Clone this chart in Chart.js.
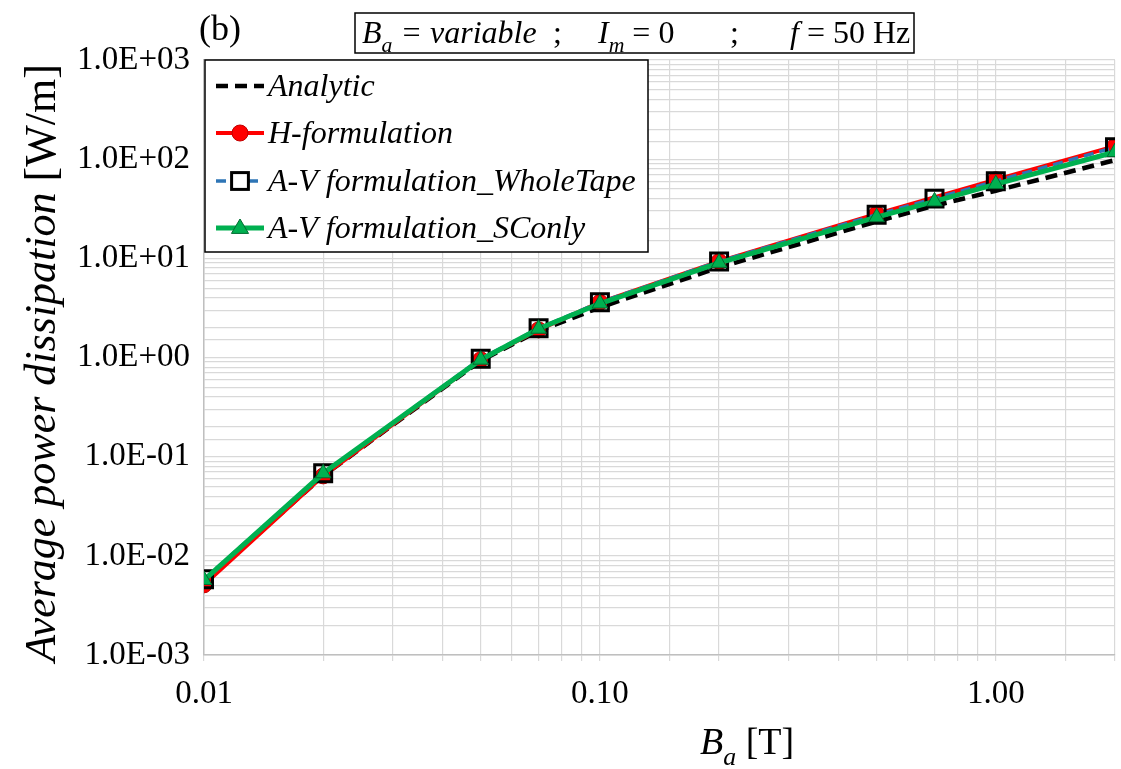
<!DOCTYPE html>
<html>
<head>
<meta charset="utf-8">
<script src="https://cdn.jsdelivr.net/npm/chart.js@4.4.1/dist/chart.umd.min.js"></script>
<style>
  html, body { margin: 0; padding: 0; background: #fff; }
  #wrap { width: 1121px; height: 769px; }
</style>
</head>
<body>
<div id="wrap"><canvas id="lossChart" width="1121" height="769"></canvas></div>
<script>
// applied field amplitude [T]
const fieldValues = [0.01, 0.02, 0.05, 0.07, 0.1, 0.2, 0.5, 0.7, 1.0, 2.0];

// average power dissipation [W/m]
const analytic   = [0.0054, 0.064, 0.93, 1.85, 3.2, 8.1, 23.5, 34, 48, 98];
const hForm      = [0.0051, 0.064, 0.95, 1.9, 3.6, 9.3, 28, null, 62, 135];
const avWhole    = [0.0058, 0.068, 0.97, 1.97, 3.6, 9.3, 27.5, 40, 60, 132];
const avSConly   = [0.0057, 0.068, 0.95, 1.95, 3.5, 9.0, 26, 37.5, 56, 118];

const seriesNames = ['Analytic', 'H-formulation', 'A-V formulation_WholeTape', 'A-V formulation_SConly'];

const serif = '"Liberation Serif", "Times New Roman", serif';

function toPoints(ys) {
    return fieldValues.map((x, i) => ({x: x, y: ys[i]}));
}

function isDecade(v) {
    const l = Math.log10(v);
    return Math.abs(l - Math.round(l)) < 1e-6;
}

function sciLabel(v) {
    const e = Math.round(Math.log10(v));
    const sign = e < 0 ? '-' : '+';
    return '1.0E' + sign + String(Math.abs(e)).padStart(2, '0');
}

// draws pieces of text one after the other: [text, italic, sub]
function richText(ctx, parts, x, y, size) {
    let cx = x;
    parts.forEach(p => {
        const fs = p[2] ? size * 0.68 : size;
        ctx.font = (p[1] ? 'italic ' : '') + fs + 'px ' + serif;
        ctx.fillText(p[0], cx, p[2] ? y + size * 0.28 : y);
        cx += ctx.measureText(p[0]).width;
    });
    return cx - x;
}

function richWidth(ctx, parts, size) {
    let w = 0;
    parts.forEach(p => {
        const fs = p[2] ? size * 0.68 : size;
        ctx.font = (p[1] ? 'italic ' : '') + fs + 'px ' + serif;
        w += ctx.measureText(p[0]).width;
    });
    return w;
}

const decorPlugin = {
    id: 'decor',
    afterDraw(chart) {
        const ctx = chart.ctx;
        const area = chart.chartArea;
        ctx.save();
        ctx.fillStyle = '#000';
        ctx.textBaseline = 'alphabetic';
        ctx.textAlign = 'left';

        // (b)
        ctx.font = '36px ' + serif;
        ctx.fillText('(b)', 199, 40);

        // condition box
        ctx.fillStyle = '#fff';
        ctx.fillRect(355, 13, 559, 40);
        ctx.strokeStyle = '#000';
        ctx.lineWidth = 1.5;
        ctx.strokeRect(355, 13, 559, 40);
        ctx.fillStyle = '#000';
        richText(ctx, [['B', true], ['a', true, true], [' = variable', true]], 362, 43, 32);
        richText(ctx, [[';', false]], 553, 43, 32);
        richText(ctx, [['I', true], ['m', true, true], [' = 0', false]], 598, 43, 32);
        richText(ctx, [[';', false]], 730, 43, 32);
        richText(ctx, [['f', true], [' = 50 Hz', false]], 790, 43, 32);

        // legend box
        const lx = 205, ly = area.top, lw = 443, lh = 192;
        ctx.fillStyle = '#fff';
        ctx.fillRect(lx, ly, lw, lh);
        ctx.strokeStyle = '#000';
        ctx.lineWidth = 1.5;
        ctx.strokeRect(lx, ly, lw, lh);
        const rows = [86, 133, 181, 228];
        chart.data.datasets.forEach((ds, i) => {
            const y = rows[i];
            ctx.save();
            ctx.strokeStyle = ds.borderColor;
            ctx.lineWidth = ds.borderWidth;
            ctx.setLineDash(ds.borderDash || []);
            ctx.beginPath();
            ctx.moveTo(216, y);
            ctx.lineTo(264, y);
            ctx.stroke();
            ctx.setLineDash([]);
            const mx = 240;
            if (ds.pointStyle === 'circle') {
                ctx.fillStyle = ds.pointBackgroundColor;
                ctx.strokeStyle = ds.pointBorderColor;
                ctx.lineWidth = ds.pointBorderWidth;
                ctx.beginPath();
                ctx.arc(mx, y, ds.pointRadius, 0, Math.PI * 2);
                ctx.fill();
                ctx.stroke();
            } else if (ds.pointStyle === 'rect') {
                const r = ds.pointRadius * 0.7;
                ctx.fillStyle = '#fff';
                ctx.strokeStyle = ds.pointBorderColor;
                ctx.lineWidth = ds.pointBorderWidth;
                ctx.fillRect(mx - r, y - r, 2 * r, 2 * r);
                ctx.strokeRect(mx - r, y - r, 2 * r, 2 * r);
            } else if (ds.pointStyle === 'triangle') {
                const r = ds.pointRadius;
                ctx.fillStyle = ds.pointBackgroundColor;
                ctx.strokeStyle = ds.pointBorderColor;
                ctx.lineWidth = ds.pointBorderWidth;
                ctx.beginPath();
                ctx.moveTo(mx, y - r);
                ctx.lineTo(mx + r * 0.95, y + r * 0.6);
                ctx.lineTo(mx - r * 0.95, y + r * 0.6);
                ctx.closePath();
                ctx.fill();
                ctx.stroke();
            }
            ctx.restore();
            ctx.fillStyle = '#000';
            ctx.font = 'italic 32px ' + serif;
            ctx.fillText(seriesNames[i], 268, y + 10);
        });

        // x axis title
        const xParts = [['B', true], ['a', true, true], [' [T]', false]];
        richText(ctx, xParts, 700, 754, 38);

        // y axis title
        ctx.save();
        ctx.translate(55, 363);
        ctx.rotate(-Math.PI / 2);
        const yParts = [['Average power dissipation ', true], ['[W/m]', false]];
        const yw = richWidth(ctx, yParts, 44);
        richText(ctx, yParts, -yw / 2, 0, 44);
        ctx.restore();

        ctx.restore();
    }
};

const ctx = document.querySelector('#lossChart');

const lossChart = new Chart(ctx, {
    type: 'line',
    data: {
        datasets: [
            {
                label: seriesNames[0],
                data: toPoints(analytic),
                borderColor: '#000000',
                borderWidth: 4.5,
                borderDash: [12, 7],
                pointRadius: 0,
                pointStyle: false,
                order: 4
            },
            {
                label: seriesNames[1],
                data: toPoints(hForm),
                borderColor: '#ff0000',
                borderWidth: 4,
                pointStyle: 'circle',
                pointRadius: 8,
                pointBackgroundColor: '#ff0000',
                pointBorderColor: '#c00000',
                pointBorderWidth: 1,
                spanGaps: true,
                order: 3
            },
            {
                label: seriesNames[2],
                data: toPoints(avWhole),
                borderColor: '#2e75b6',
                borderWidth: 3.5,
                borderDash: [10, 6],
                pointStyle: 'rect',
                pointRadius: 12,
                pointBackgroundColor: 'rgba(255,255,255,0)',
                pointBorderColor: '#000000',
                pointBorderWidth: 3,
                order: 2
            },
            {
                label: seriesNames[3],
                data: toPoints(avSConly),
                borderColor: '#00b050',
                borderWidth: 5,
                pointStyle: 'triangle',
                pointRadius: 9,
                pointBackgroundColor: '#00b050',
                pointBorderColor: '#006b30',
                pointBorderWidth: 1,
                order: 1
            }
        ]
    },
    options: {
        animation: false,
        responsive: false,
        devicePixelRatio: 1,
        layout: { autoPadding: false, padding: { top: 60, right: 6, left: 0, bottom: 0 } },
        plugins: {
            legend: { display: false },
            tooltip: { enabled: false },
            title: { display: false }
        },
        elements: { line: { tension: 0 } },
        scales: {
            x: {
                type: 'logarithmic',
                min: 0.01,
                max: 2,
                afterFit: (s) => { s.height = 114; s.paddingRight = 0; s.paddingLeft = 0; },
                grid: { color: '#d9d9d9', lineWidth: 1.2, tickLength: 6, drawTicks: true },
                border: { color: '#bfbfbf', width: 1.5 },
                ticks: {
                    autoSkip: false,
                    maxRotation: 0,
                    padding: 14,
                    color: '#000',
                    font: { family: serif, size: 33 },
                    callback: (v) => isDecade(v) ? Number(v).toFixed(2) : ''
                }
            },
            y: {
                type: 'logarithmic',
                min: 0.001,
                max: 1000,
                afterFit: (s) => { s.width = 204; s.paddingTop = 0; s.paddingBottom = 0; },
                grid: { color: '#d9d9d9', lineWidth: 1.2, drawTicks: false },
                border: { color: '#bfbfbf', width: 1.5 },
                ticks: {
                    autoSkip: false,
                    padding: 14,
                    color: '#000',
                    font: { family: serif, size: 33 },
                    callback: (v) => isDecade(v) ? sciLabel(v) : ''
                }
            }
        }
    },
    plugins: [decorPlugin]
});
</script>
</body>
</html>
